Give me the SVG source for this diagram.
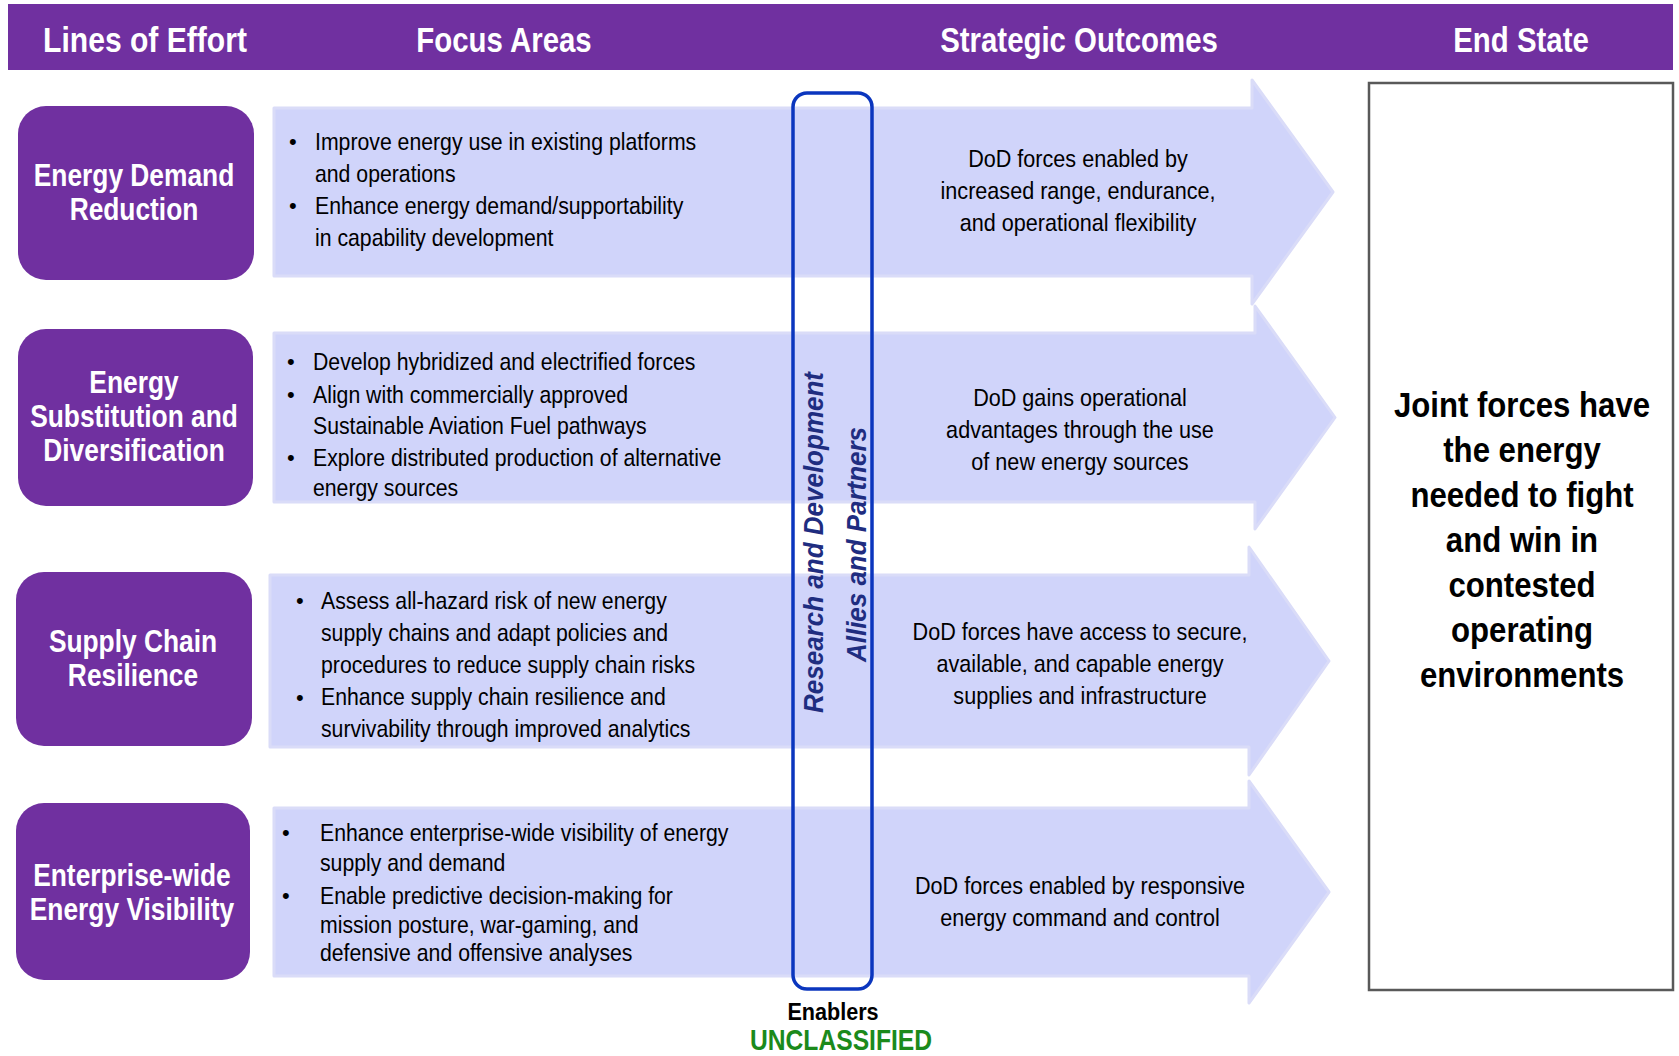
<svg xmlns="http://www.w3.org/2000/svg" width="1679" height="1056" viewBox="0 0 1679 1056">
<style>
.hdr{font-family:"Liberation Sans",Arial,sans-serif;font-weight:bold;font-size:35px;fill:#fff;text-anchor:middle}
.loe{fill:#7030A0}
.loet{font-family:"Liberation Sans",Arial,sans-serif;font-weight:bold;font-size:31px;fill:#fff;text-anchor:middle}
.arrow{fill:#D0D4FA;stroke:#DADCF8;stroke-width:3;stroke-linejoin:round}
.body{font-family:"Liberation Sans",Arial,sans-serif;font-size:24px;fill:#000}
.out{font-family:"Liberation Sans",Arial,sans-serif;font-size:24px;fill:#000;text-anchor:middle}
.bul{font-family:"Liberation Sans",Arial,sans-serif;font-size:22px;fill:#000}
.vert{font-family:"Liberation Sans",Arial,sans-serif;font-weight:bold;font-style:italic;font-size:28px;fill:#1F2D80;text-anchor:middle}
.end{font-family:"Liberation Sans",Arial,sans-serif;font-weight:bold;font-size:35px;fill:#000;text-anchor:middle}
</style>

<g id="header">
<rect x="8" y="4" width="1665" height="66" fill="#7030A0"/>
<g transform="translate(145,0) scale(0.86,1)"><text class="hdr" x="0" y="52">Lines of Effort</text></g>
<g transform="translate(504,0) scale(0.84,1)"><text class="hdr" x="0" y="52">Focus Areas</text></g>
<g transform="translate(1079,0) scale(0.84,1)"><text class="hdr" x="0" y="52">Strategic Outcomes</text></g>
<g transform="translate(1521,0) scale(0.84,1)"><text class="hdr" x="0" y="52">End State</text></g>
</g>

<g id="arrow1">
<path class="arrow" d="M274,108 H1252 V80 L1333,192 L1252,304 V276 H274 Z"/>
<text class="bul" x="289" y="149">•</text>
<text class="bul" x="289" y="213">•</text>
<g transform="translate(315,0) scale(0.885,1)">
<text class="body" x="0" y="150">Improve energy use in existing platforms</text>
<text class="body" x="0" y="182">and operations</text>
<text class="body" x="0" y="214">Enhance energy demand/supportability</text>
<text class="body" x="0" y="246">in capability development</text>
</g>
<g transform="translate(1078,0) scale(0.9,1)">
<text class="out" x="0" y="167">DoD forces enabled by</text>
<text class="out" x="0" y="199">increased range, endurance,</text>
<text class="out" x="0" y="231">and operational flexibility</text>
</g>
</g>

<g id="arrow2">
<path class="arrow" d="M274,333 H1255 V306 L1335,417.5 L1255,529 V502 H274 Z"/>
<text class="bul" x="287" y="369">•</text>
<text class="bul" x="287" y="402">•</text>
<text class="bul" x="287" y="465">•</text>
<g transform="translate(313,0) scale(0.885,1)">
<text class="body" x="0" y="370">Develop hybridized and electrified forces</text>
<text class="body" x="0" y="403">Align with commercially approved</text>
<text class="body" x="0" y="434">Sustainable Aviation Fuel pathways</text>
<text class="body" x="0" y="466">Explore distributed production of alternative</text>
<text class="body" x="0" y="496">energy sources</text>
</g>
<g transform="translate(1080,0) scale(0.9,1)">
<text class="out" x="0" y="406">DoD gains operational</text>
<text class="out" x="0" y="438">advantages through the use</text>
<text class="out" x="0" y="470">of new energy sources</text>
</g>
</g>

<g id="arrow3">
<path class="arrow" d="M270,575 H1249 V547 L1329,661 L1249,775 V747 H270 Z"/>
<text class="bul" x="296" y="608">•</text>
<text class="bul" x="296" y="705">•</text>
<g transform="translate(321,0) scale(0.885,1)">
<text class="body" x="0" y="609">Assess all-hazard risk of new energy</text>
<text class="body" x="0" y="641">supply chains and adapt policies and</text>
<text class="body" x="0" y="673">procedures to reduce supply chain risks</text>
<text class="body" x="0" y="705">Enhance supply chain resilience and</text>
<text class="body" x="0" y="737">survivability through improved analytics</text>
</g>
<g transform="translate(1080,0) scale(0.9,1)">
<text class="out" x="0" y="640">DoD forces have access to secure,</text>
<text class="out" x="0" y="672">available, and capable energy</text>
<text class="out" x="0" y="704">supplies and infrastructure</text>
</g>
</g>

<g id="arrow4">
<path class="arrow" d="M274,808 H1249 V781 L1329,892 L1249,1003 V976 H274 Z"/>
<text class="bul" x="282" y="840">•</text>
<text class="bul" x="282" y="903">•</text>
<g transform="translate(320,0) scale(0.885,1)">
<text class="body" x="0" y="841">Enhance enterprise-wide visibility of energy</text>
<text class="body" x="0" y="871">supply and demand</text>
<text class="body" x="0" y="904">Enable predictive decision-making for</text>
<text class="body" x="0" y="933">mission posture, war-gaming, and</text>
<text class="body" x="0" y="961">defensive and offensive analyses</text>
</g>
<g transform="translate(1080,0) scale(0.9,1)">
<text class="out" x="0" y="894">DoD forces enabled by responsive</text>
<text class="out" x="0" y="926">energy command and control</text>
</g>
</g>

<g id="loe1">
<rect class="loe" x="18" y="106" width="236" height="174" rx="28"/>
<g transform="translate(134,0) scale(0.85,1)">
<text class="loet" x="0" y="186">Energy Demand</text>
<text class="loet" x="0" y="220">Reduction</text>
</g>
</g>
<g id="loe2">
<rect class="loe" x="18" y="329" width="235" height="177" rx="28"/>
<g transform="translate(134,0) scale(0.85,1)">
<text class="loet" x="0" y="393">Energy</text>
<text class="loet" x="0" y="427">Substitution and</text>
<text class="loet" x="0" y="461">Diversification</text>
</g>
</g>
<g id="loe3">
<rect class="loe" x="16" y="572" width="236" height="174" rx="28"/>
<g transform="translate(133,0) scale(0.85,1)">
<text class="loet" x="0" y="652">Supply Chain</text>
<text class="loet" x="0" y="686">Resilience</text>
</g>
</g>
<g id="loe4">
<rect class="loe" x="16" y="803" width="234" height="177" rx="28"/>
<g transform="translate(132,0) scale(0.85,1)">
<text class="loet" x="0" y="886">Enterprise-wide</text>
<text class="loet" x="0" y="920">Energy Visibility</text>
</g>
</g>

<g id="enablers">
<rect x="793" y="93" width="79" height="896" rx="14" fill="none" stroke="#0B36BE" stroke-width="3.5"/>
<text class="vert" transform="translate(823,542.5) rotate(-90)" x="0" y="0" textLength="341" lengthAdjust="spacingAndGlyphs">Research and Development</text>
<text class="vert" transform="translate(866,544.5) rotate(-90)" x="0" y="0" textLength="235" lengthAdjust="spacingAndGlyphs">Allies and Partners</text>
<g transform="translate(833,0) scale(0.9,1)">
<text x="0" y="1020" font-family="Liberation Sans, Arial, sans-serif" font-weight="bold" font-size="24" text-anchor="middle" fill="#000">Enablers</text>
</g>
</g>

<g id="endstate">
<rect x="1369" y="83" width="304" height="907" fill="#fff" stroke="#595959" stroke-width="2.5"/>
<g transform="translate(1522,0) scale(0.89,1)">
<text class="end" x="0" y="417">Joint forces have</text>
<text class="end" x="0" y="462">the energy</text>
<text class="end" x="0" y="507">needed to fight</text>
<text class="end" x="0" y="552">and win in</text>
<text class="end" x="0" y="597">contested</text>
<text class="end" x="0" y="642">operating</text>
<text class="end" x="0" y="687">environments</text>
</g>
</g>

<g id="classification" transform="translate(841,0) scale(0.85,1)">
<text x="0" y="1050" font-family="Liberation Sans, Arial, sans-serif" font-weight="bold" font-size="29" text-anchor="middle" fill="#1B8A1B">UNCLASSIFIED</text>
</g>
</svg>
